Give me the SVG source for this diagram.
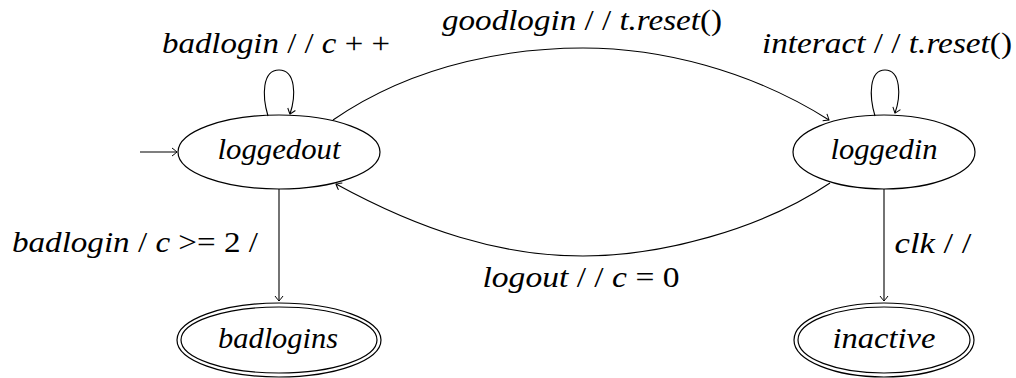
<svg xmlns="http://www.w3.org/2000/svg" width="1016" height="378" viewBox="0 0 1016 378">
<defs>
<style>
.st{fill:none;stroke:#000;stroke-width:1.2}
.ed{fill:none;stroke:#000;stroke-width:1.1;marker-end:url(#ah)}
.u{font-style:normal}
</style>
<marker id="ah" viewBox="-6 -5 8 10" markerWidth="8" markerHeight="10" refX="0" refY="0" orient="auto" markerUnits="userSpaceOnUse">
<path d="M-5,-4 Q-1,-1 0,0 Q-1,1 -5,4" fill="none" stroke="#000" stroke-width="1"/>
</marker>
</defs>
<rect width="1016" height="378" fill="#fff"/>
<g id="connectors">
<path class="ed" d="M140,152 L177,152"/>
<path class="ed" d="M268,116 C262,96 262,70 279,70 C296,70 296,96 290,114"/>
<path class="ed" d="M875,116 C869,96 869,70 885,70 C901,70 901,96 895,113"/>
<path class="ed" d="M333,120 C420,60 520,48 583,48 C660,48 750,70 829,120"/>
<path class="ed" d="M830,183 C760,230 660,256 583,256 C500,256 420,230 336,184"/>
<path class="ed" d="M279,189 L279,301"/>
<path class="ed" d="M884,189 L884,301"/>
</g>
<g id="labels" font-family="'Liberation Serif', serif" font-size="29" font-style="italic" fill="#000" text-anchor="middle">
<text x="276" y="53" textLength="228" lengthAdjust="spacingAndGlyphs">badlogin <tspan class="u">/ /</tspan> c <tspan class="u">+ +</tspan></text>
<text x="582" y="30" textLength="280" lengthAdjust="spacingAndGlyphs">goodlogin <tspan class="u">/ /</tspan> t.reset<tspan class="u">()</tspan></text>
<text x="887" y="53" textLength="250" lengthAdjust="spacingAndGlyphs">interact <tspan class="u">/ /</tspan> t.reset<tspan class="u">()</tspan></text>
<text x="135" y="252" textLength="246" lengthAdjust="spacingAndGlyphs">badlogin <tspan class="u">/</tspan> c <tspan class="u">&gt;= 2 /</tspan></text>
<text x="933" y="253" textLength="77" lengthAdjust="spacingAndGlyphs">clk <tspan class="u">/ /</tspan></text>
<text x="581" y="287" textLength="197" lengthAdjust="spacingAndGlyphs">logout <tspan class="u">/ /</tspan> c <tspan class="u">= 0</tspan></text>
</g>
<g font-family="'Liberation Serif', serif" font-size="29" font-style="italic" fill="#000" text-anchor="middle">
<g id="loggedout">
<ellipse class="st" cx="279" cy="152" rx="101" ry="37"/>
<text x="279" y="159" textLength="123" lengthAdjust="spacingAndGlyphs">loggedout</text>
</g>
<g id="loggedin">
<ellipse class="st" cx="884" cy="152" rx="91" ry="37"/>
<text x="884" y="159" textLength="107" lengthAdjust="spacingAndGlyphs">loggedin</text>
</g>
<g id="badlogins">
<ellipse class="st" cx="279" cy="340" rx="102" ry="37"/>
<ellipse class="st" cx="279" cy="340" rx="98" ry="33"/>
<text x="278" y="348" textLength="120" lengthAdjust="spacingAndGlyphs">badlogins</text>
</g>
<g id="inactive">
<ellipse class="st" cx="884" cy="340" rx="90" ry="37"/>
<ellipse class="st" cx="884" cy="340" rx="86" ry="33"/>
<text x="884" y="348" textLength="103" lengthAdjust="spacingAndGlyphs">inactive</text>
</g>
</g>
</svg>
